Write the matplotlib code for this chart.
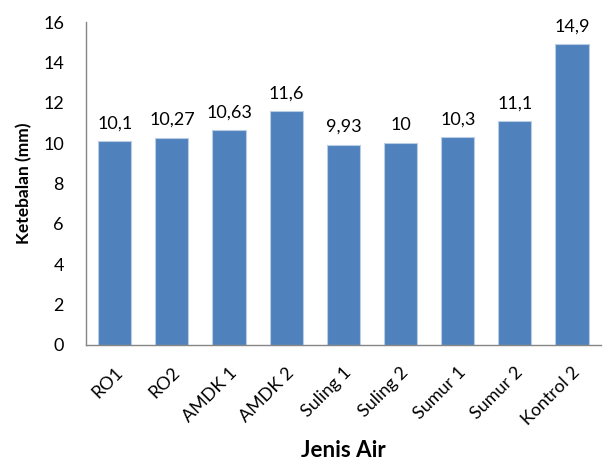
import matplotlib.pyplot as plt
import numpy as np

jenis_air = ["RO1", "RO2", "AMDK 1", "AMDK 2", "Suling 1", "Suling 2", "Sumur 1", "Sumur 2", "Kontrol 2"]
ketebalan = [10.1, 10.27, 10.63, 11.6, 9.93, 10.0, 10.3, 11.1, 14.9]
label_teks = ["10,1", "10,27", "10,63", "11,6", "9,93", "10", "10,3", "11,1", "14,9"]
y_ticks = [0, 2, 4, 6, 8, 10, 12, 14, 16]

plt.rcParams['font.family'] = ['Lato', 'DejaVu Sans']

fig = plt.figure(figsize=(6.11, 4.70), dpi=100)
ax = fig.add_axes([0.141, 0.266, 0.842, 0.687])

x = np.arange(len(jenis_air))
bars = ax.bar(x, ketebalan, width=0.58, color="#4F81BD", edgecolor="#b9cde5", linewidth=0.8)

# nilai di atas tiap batang
for rect, teks in zip(bars, label_teks):
    ax.annotate(teks, (rect.get_x() + rect.get_width() / 2, rect.get_height()),
                xytext=(0, 7), textcoords="offset points",
                ha="center", va="bottom", fontsize=13)

ax.set_ylim(0, 16)
ax.set_xlim(-0.5, len(jenis_air) - 0.5)
ax.set_yticks(y_ticks)
ax.set_yticklabels([str(t) for t in y_ticks], fontsize=13)
ax.set_xticks(x)
ax.set_xticklabels(jenis_air, rotation=45, ha="right", rotation_mode="anchor", fontsize=13)
ax.tick_params(axis="both", length=0)
ax.tick_params(axis="y", pad=16)
ax.tick_params(axis="x", pad=14)

for side in ["top", "right"]:
    ax.spines[side].set_visible(False)
for side in ["left", "bottom"]:
    ax.spines[side].set_color("#868686")
    ax.spines[side].set_linewidth(1)

ax.set_ylabel("Ketebalan (mm)", fontsize=12.5, fontweight="bold", labelpad=8)
ax.set_xlabel("Jenis Air", fontsize=16, fontweight="bold", labelpad=8)

fig.savefig("out.png", dpi=100)
